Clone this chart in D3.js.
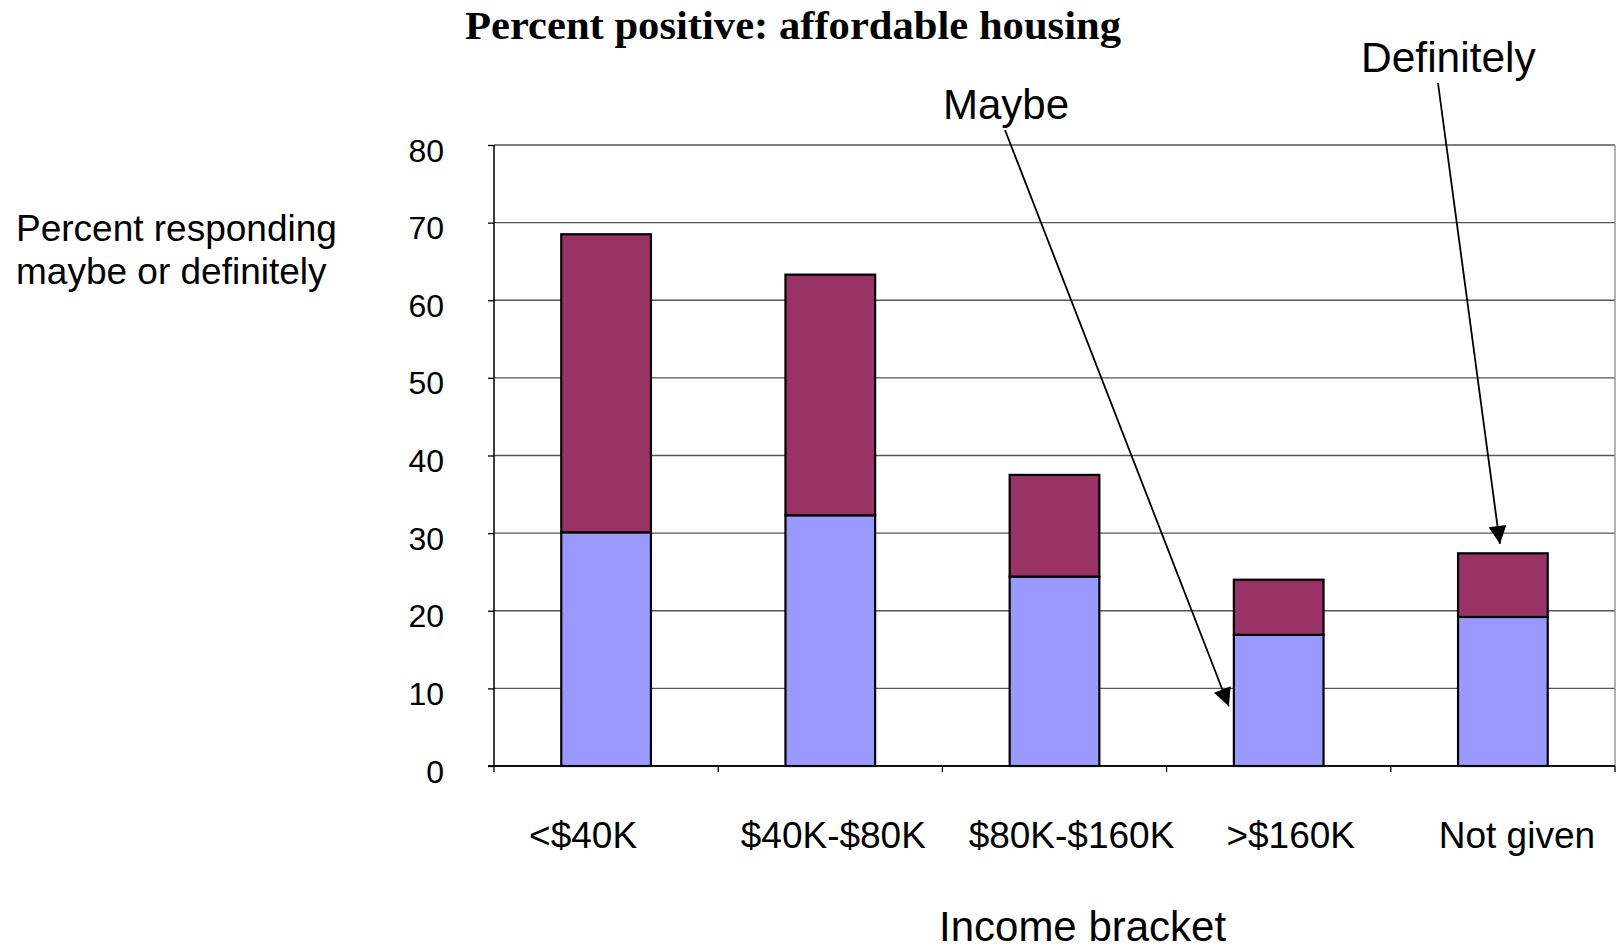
<!DOCTYPE html>
<html>
<head>
<meta charset="utf-8">
<script src="https://cdn.jsdelivr.net/npm/d3@7"></script>
<style>
  html, body { margin: 0; padding: 0; background: #fff; }
  svg { display: block; }
</style>
</head>
<body>
<svg id="chart" width="1621" height="949"></svg>
<script>
// ---- data ----
const categories = ["<$40K", "$40K-$80K", "$80K-$160K", ">$160K", "Not given"];
const maybeValues = [30.1, 32.3, 24.4, 16.9, 19.2];
const definitelyValues = [38.4, 31.0, 13.1, 7.1, 8.2];
const yTicks = [0, 10, 20, 30, 40, 50, 60, 70, 80];
const seriesNames = ["Maybe", "Definitely"];
const seriesColors = ["#9999FF", "#993366"];

// ---- layout constants ----
const labelNudge = [-23, 3, 17, 12, 14];   // horizontal offsets of category labels, px
const svg = d3.select("#chart");
const plot = { left: 494, right: 1615, top: 145, bottom: 766 };

const x = d3.scaleBand().domain(categories).range([plot.left, plot.right]).padding(0);
const y = d3.scaleLinear().domain([0, 80]).range([plot.bottom, plot.top]);
const barW = x.bandwidth() * 0.4;

// gridlines
svg.append("g").selectAll("line").data(yTicks.filter(d => d > 0)).join("line")
  .attr("x1", plot.left).attr("x2", plot.right)
  .attr("y1", d => y(d)).attr("y2", d => y(d))
  .attr("stroke", "#555").attr("stroke-width", 1.3);

// right border
svg.append("line")
  .attr("x1", plot.right).attr("x2", plot.right)
  .attr("y1", y(80)).attr("y2", y(0))
  .attr("stroke", "#999").attr("stroke-width", 1.5);

// y axis
const yAxis = d3.axisLeft(y).tickValues(yTicks).tickSize(6).tickPadding(0).tickFormat(d3.format("d"));
const gy = svg.append("g").attr("transform", `translate(${plot.left},0)`).call(yAxis);
gy.select(".domain").attr("stroke", "#000").attr("stroke-width", 1.5).attr("d", `M0,${y(80)}V${y(0)}`);
gy.selectAll(".tick line").attr("stroke", "#000").attr("stroke-width", 1.3);
gy.selectAll(".tick text")
  .attr("x", -50).attr("dy", "0.5em")
  .attr("font-family", "'Liberation Sans', Arial, sans-serif")
  .attr("font-size", 32).attr("fill", "#000");

// x axis
const xAxis = d3.axisBottom(x).tickSize(0).tickPadding(0);
const gx = svg.append("g").attr("transform", `translate(0,${plot.bottom})`).call(xAxis);
gx.select(".domain").attr("stroke", "#000").attr("stroke-width", 1.5).attr("d", `M${plot.left - 6},0H${plot.right}`);
gx.selectAll(".tick text")
  .attr("y", 82).attr("dy", 0).attr("dx", (d, i) => labelNudge[i])
  .attr("font-family", "'Liberation Sans', Arial, sans-serif")
  .attr("font-size", 37).attr("fill", "#000");
// category boundary ticks
svg.append("g").selectAll("line").data(d3.range(categories.length + 1)).join("line")
  .attr("x1", i => plot.left + i * x.step()).attr("x2", i => plot.left + i * x.step())
  .attr("y1", plot.bottom).attr("y2", plot.bottom + 6)
  .attr("stroke", "#000").attr("stroke-width", 1.3);

// stacked bars
const rows = categories.map((c, i) => ({ cat: c, Maybe: maybeValues[i], Definitely: definitelyValues[i] }));
const stacked = d3.stack().keys(seriesNames)(rows);
svg.append("g").selectAll("g").data(stacked).join("g")
  .attr("fill", (d, i) => seriesColors[i])
  .selectAll("rect").data(d => d).join("rect")
  .attr("x", d => x(d.data.cat) + (x.bandwidth() - barW) / 2)
  .attr("width", barW)
  .attr("y", d => y(d[1]))
  .attr("height", d => y(d[0]) - y(d[1]))
  .attr("stroke", "#000").attr("stroke-width", 2.2);

// redraw x axis line over bars
svg.append("line").attr("x1", plot.left - 6).attr("x2", plot.right)
  .attr("y1", plot.bottom).attr("y2", plot.bottom).attr("stroke", "#000").attr("stroke-width", 1.5);

// title
svg.append("text").attr("x", 465).attr("y", 39)
  .attr("font-family", "'Liberation Serif', 'Times New Roman', serif")
  .attr("font-weight", "bold").attr("font-size", 41).attr("fill", "#000")
  .attr("textLength", 656).attr("lengthAdjust", "spacingAndGlyphs")
  .text("Percent positive: affordable housing");

// axis titles
const yt = svg.append("text").attr("font-family", "'Liberation Sans', Arial, sans-serif")
  .attr("font-size", 37).attr("fill", "#000");
yt.append("tspan").attr("x", 16).attr("y", 241).text("Percent responding");
yt.append("tspan").attr("x", 16).attr("y", 284).text("maybe or definitely");

svg.append("text").attr("x", 939).attr("y", 941)
  .attr("font-family", "'Liberation Sans', Arial, sans-serif")
  .attr("font-size", 42).attr("fill", "#000")
  .text("Income bracket");

// annotations with arrows
svg.append("defs").append("marker")
  .attr("id", "arrow").attr("viewBox", "0 0 10 10").attr("refX", 10).attr("refY", 5)
  .attr("markerWidth", 20).attr("markerHeight", 18).attr("markerUnits", "userSpaceOnUse")
  .attr("orient", "auto")
  .append("path").attr("d", "M0,0L10,5L0,10Z").attr("fill", "#000");

const annotations = [
  { label: "Maybe", size: 42, tx: 943, ty: 119, sx: 1005, sy: 130,
    px: x(">$160K") + (x.bandwidth() - barW) / 2 - 5, py: y(7.7) },
  { label: "Definitely", size: 42.5, tx: 1361, ty: 72, sx: 1438, sy: 83,
    px: x("Not given") + x.bandwidth() / 2 - 3, py: y(28.6) }
];
annotations.forEach(a => {
  svg.append("text").attr("x", a.tx).attr("y", a.ty)
    .attr("font-family", "'Liberation Sans', Arial, sans-serif")
    .attr("font-size", a.size).attr("fill", "#000").text(a.label);
  svg.append("line").attr("x1", a.sx).attr("y1", a.sy).attr("x2", a.px).attr("y2", a.py)
    .attr("stroke", "#000").attr("stroke-width", 1.8).attr("marker-end", "url(#arrow)");
});
</script>
</body>
</html>
